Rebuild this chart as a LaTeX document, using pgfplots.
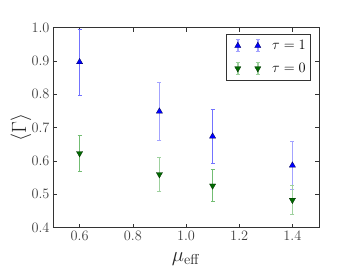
\documentclass[border=0pt]{standalone}
\usepackage{pgfplots}
\pgfplotsset{compat=1.18}
\definecolor{mblue}{rgb}{0,0,1}
\definecolor{mgreen}{rgb}{0,0.42,0}
\definecolor{bA}{rgb}{0.45,0.45,1}
\definecolor{bB}{rgb}{0.64,0.64,1}
\definecolor{gA}{rgb}{0.45,0.74,0.45}
\definecolor{gB}{rgb}{0.62,0.82,0.62}
\pgfplotsset{
  ebar/.style={forget plot, draw=none, error bars/.cd, y dir=both, y explicit,
    error bar style={draw=#1, line width=1.7pt},
    error mark options={rotate=90, mark size=2bp, draw=#1, line width=0.9pt}},
}
\begin{document}
\begin{tikzpicture}
\useasboundingbox (-53bp,-39.5bp) rectangle (301bp,227.7bp);
\begin{axis}[
  at={(0,0)}, anchor=south west,
  scale only axis, width=266bp, height=200bp,
  xmin=0.5, xmax=1.5, ymin=0.4, ymax=1.0,
  xtick={0.6,0.8,1.0,1.2,1.4}, ytick={0.4,0.5,0.6,0.7,0.8,0.9,1.0},
  tick align=inside, tick pos=both,
  major tick length=4bp,
  axis line style={black!80, line width=0.6pt},
  every tick/.style={black!80, line width=0.5pt},
  minor tick num=0,
  xticklabel style={/pgf/number format/.cd, fixed, fixed zerofill, precision=1},
  yticklabel style={/pgf/number format/.cd, fixed, fixed zerofill, precision=1},
  tick label style={font=\fontsize{14.5}{16}\selectfont, text=black!75},
  xlabel={$\mu_{\mathrm{eff}}$}, ylabel={$\langle\Gamma\rangle$},
  xlabel style={font=\fontsize{20}{22}\selectfont, text=black!85, at={(axis description cs:0.5,-0.155)}, anchor=center},
  ylabel style={font=\fontsize{21}{23}\selectfont, text=black!85, at={(axis description cs:-0.12,0.5)}, anchor=center},
  legend style={at={(0.97,0.968)}, anchor=north east, draw=black!80, line width=0.6pt, font=\fontsize{14.5}{16}\selectfont, inner xsep=3bp, inner ysep=4bp, row sep=8bp, cells={anchor=west}},
  legend cell align=left,
]
\addplot[ebar=bA] coordinates {(0.6,0.897) +- (0,0.099)};
\addplot[ebar=bB] coordinates {(0.9,0.749) +- (0,0.088)};
\addplot[ebar=bA] coordinates {(1.1,0.674) +- (0,0.081)};
\addplot[ebar=bB] coordinates {(1.4,0.587) +- (0,0.073)};
\addplot[ebar=gA] coordinates {(0.6,0.623) +- (0,0.053)};
\addplot[ebar=gB] coordinates {(0.9,0.560) +- (0,0.050)};
\addplot[ebar=gA] coordinates {(1.1,0.526) +- (0,0.048)};
\addplot[ebar=gB] coordinates {(1.4,0.483) +- (0,0.044)};
% markers
\addplot[only marks, mark=triangle*, mark size=3.6bp, mark options={fill=mblue, draw=black!70!blue, line width=0.3pt},
  legend image code/.code={
    \path (-4bp,0) (36bp,0);
    \draw[bB, line width=1.7pt] (4bp,-6bp)--(4bp,6bp) (24bp,-6bp)--(24bp,6bp);
    \draw[bB, line width=0.9pt] (2bp,-6bp)--(6bp,-6bp) (2bp,6bp)--(6bp,6bp) (22bp,-6bp)--(26bp,-6bp) (22bp,6bp)--(26bp,6bp);
    \path plot[only marks, mark=triangle*, mark size=3.6bp, mark options={fill=mblue, draw=black!70!blue, line width=0.3pt}] coordinates {(4bp,0bp) (24bp,0bp)};
  }] coordinates {(0.6,0.897) (0.9,0.749) (1.1,0.674) (1.4,0.587)};
\addlegendentry{$\tau=1$}
\addplot[only marks, mark=triangle*, mark size=3.6bp, mark options={rotate=180, fill=mgreen, draw=black!60!mgreen, line width=0.3pt},
  legend image code/.code={
    \path (-4bp,0) (36bp,0);
    \draw[gB, line width=1.7pt] (4bp,-6bp)--(4bp,6bp) (24bp,-6bp)--(24bp,6bp);
    \draw[gB, line width=0.9pt] (2bp,-6bp)--(6bp,-6bp) (2bp,6bp)--(6bp,6bp) (22bp,-6bp)--(26bp,-6bp) (22bp,6bp)--(26bp,6bp);
    \path plot[only marks, mark=triangle*, mark size=3.6bp, mark options={rotate=180, fill=mgreen, draw=black!60!mgreen, line width=0.3pt}] coordinates {(4bp,0bp) (24bp,0bp)};
  }] coordinates {(0.6,0.623) (0.9,0.560) (1.1,0.526) (1.4,0.483)};
\addlegendentry{$\tau=0$}
\end{axis}
\end{tikzpicture}
\end{document}
